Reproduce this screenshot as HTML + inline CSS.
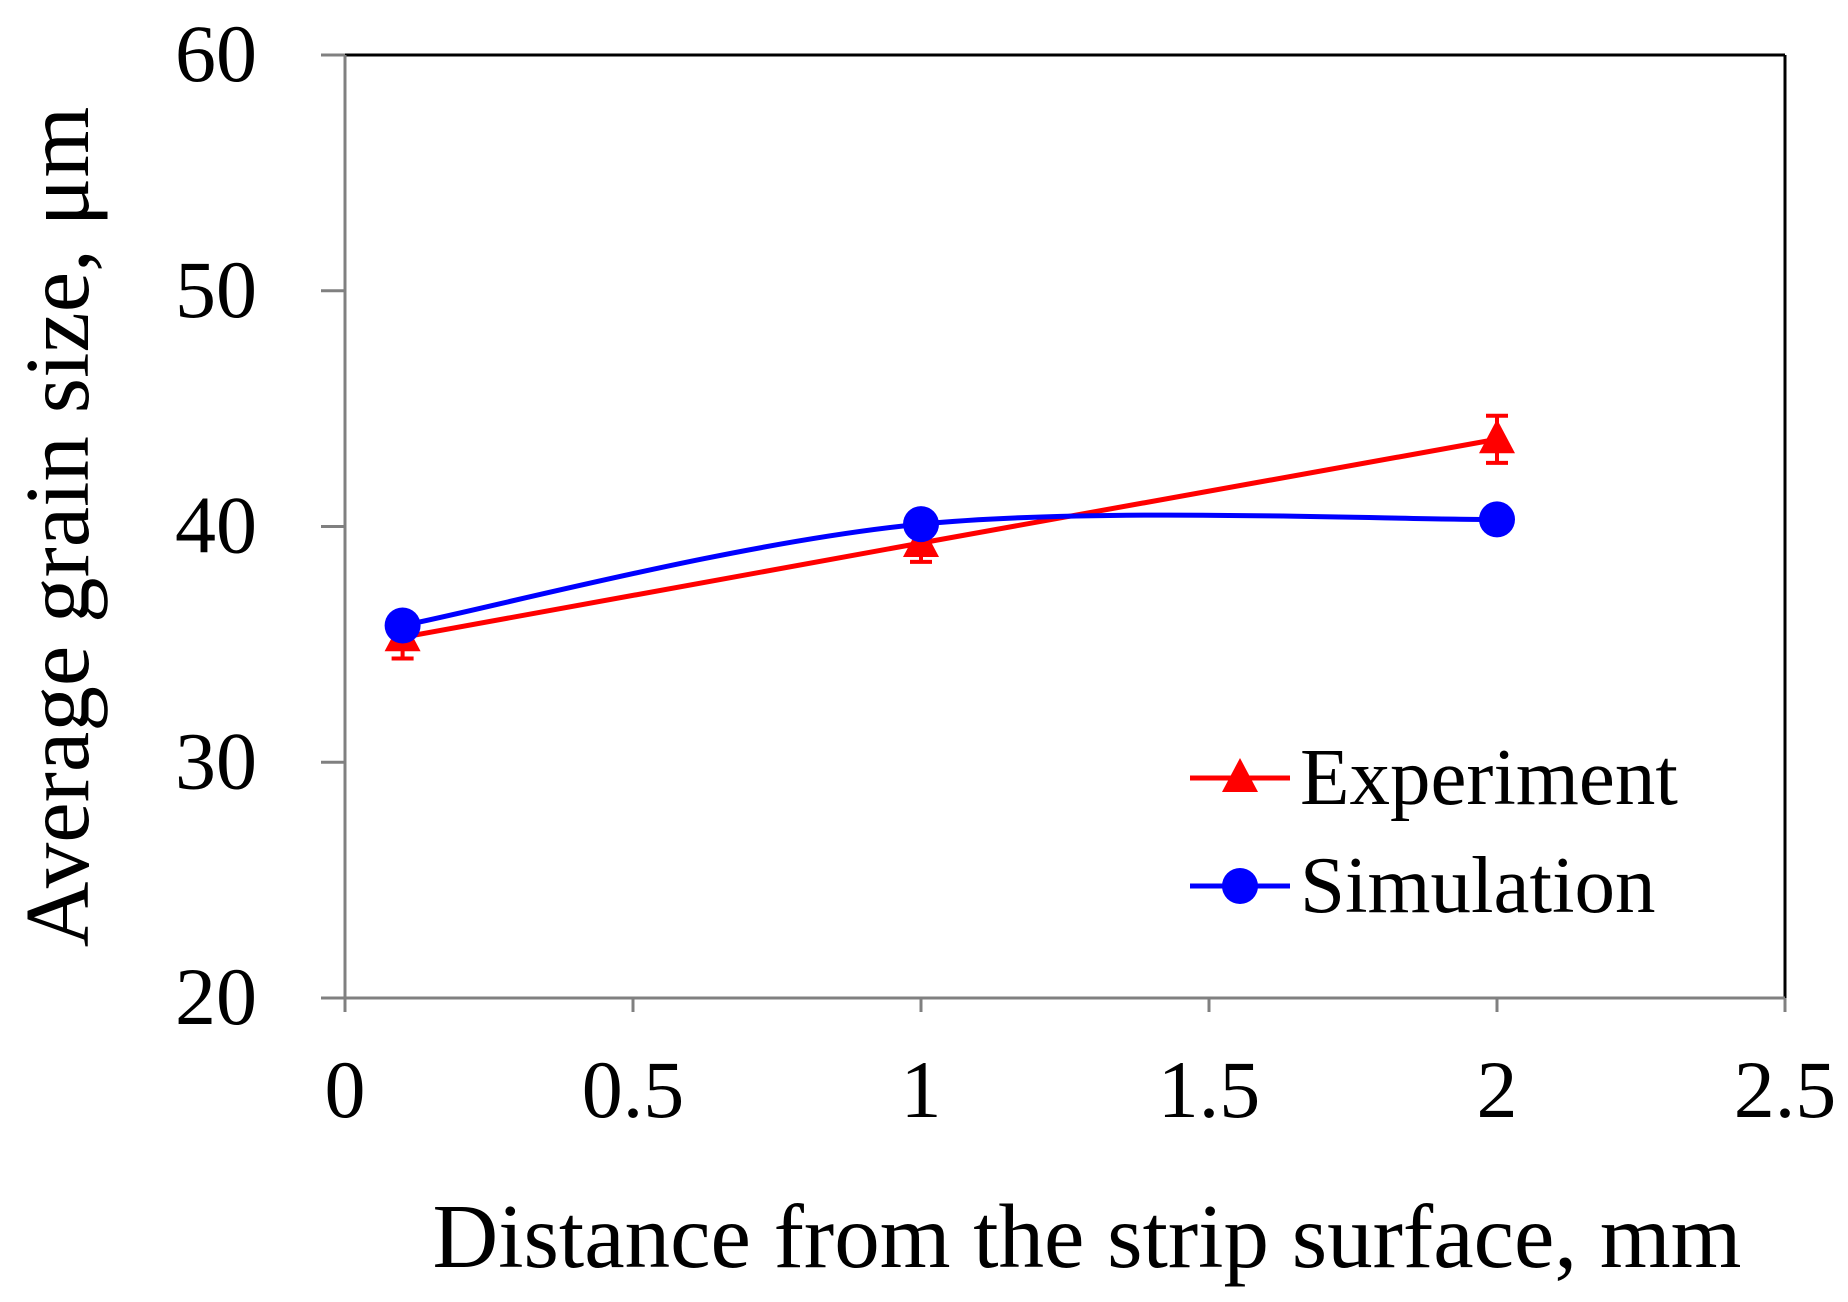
<!DOCTYPE html>
<html><head><meta charset="utf-8"><style>
html,body{margin:0;padding:0;background:#fff;}
svg{display:block;}
text{font-family:"Liberation Serif",serif;fill:#000;}
</style></head><body>
<svg id="chart" width="1848" height="1302" viewBox="0 0 1848 1302"></svg>
<script>
const xTicks=[0,0.5,1,1.5,2,2.5];
const xTickLabels=["0","0.5","1","1.5","2","2.5"];
const yTicks=[20,30,40,50,60];
const yTickLabels=["20","30","40","50","60"];
const xValues=[0.1,1,2];
const expValues=[35.3,39.3,43.7];
const expErrors=[0.9,0.8,1.0];
const simValues=[35.8,40.1,40.3];

const L=345,R=1785,T=55,B=998;
const X=v=>L+(v-0)/(2.5-0)*(R-L);
const Y=v=>B-(v-20)/(60-20)*(B-T);
const NS="http://www.w3.org/2000/svg";
const svg=document.getElementById('chart');
function el(tag,attrs,parent){const e=document.createElementNS(NS,tag);for(const k in attrs)e.setAttribute(k,attrs[k]);(parent||svg).appendChild(e);return e;}

const frame=el('g',{});


el('line',{x1:L,y1:T,x2:R,y2:T,stroke:'#000','stroke-width':3},frame);
el('line',{x1:R,y1:T,x2:R,y2:B,stroke:'#000','stroke-width':3},frame);
const yAxis=el('line',{x1:L,y1:T,x2:L,y2:B,stroke:'#808080','stroke-width':3});


const xAxis=el('line',{x1:L-24,y1:B,x2:R,y2:B,stroke:'#808080','stroke-width':3});



yTicks.forEach((v,i)=>{
  const t=el('line',{x1:L-24,y1:Y(v),x2:L,y2:Y(v),stroke:'#808080','stroke-width':3});
  
  
  const lb=el('text',{x:257,y:Y(v)+26,'text-anchor':'end','font-size':82});
  lb.textContent=yTickLabels[i];
  
  
});
xTicks.forEach((v,i)=>{
  const t=el('line',{x1:X(v),y1:B,x2:X(v),y2:B+14,stroke:'#808080','stroke-width':3});
  
  
  const lb=el('text',{x:X(v),y:1117,'text-anchor':'middle','font-size':82});
  lb.textContent=xTickLabels[i];
  
  
});

const yt=el('text',{x:0,y:0,'text-anchor':'middle','font-size':91,transform:'translate(88,527) rotate(-90)'});
yt.textContent='Average grain size, μm';


const xt=el('text',{x:1087,y:1267,'text-anchor':'middle','font-size':91});
xt.textContent='Distance from the strip surface, mm';



const ep=el('polyline',{points:xValues.map((x,i)=>X(x)+','+Y(expValues[i])).join(' '),fill:'none',stroke:'#ff0000','stroke-width':5});



const sp=xValues.map((x,i)=>[X(x),Y(simValues[i])]);
let d='M'+sp[0][0]+','+sp[0][1];
for(let i=0;i<sp.length-1;i++){
  const p0=sp[Math.max(i-1,0)],p1=sp[i],p2=sp[i+1],p3=sp[Math.min(i+2,sp.length-1)];
  const k=1/6;
  d+=' C'+(p1[0]+(p2[0]-p0[0])*k)+','+(p1[1]+(p2[1]-p0[1])*k)+' '+(p2[0]-(p3[0]-p1[0])*k)+','+(p2[1]-(p3[1]-p1[1])*k)+' '+p2[0]+','+p2[1];
}
const sl=el('path',{d:d,fill:'none',stroke:'#0000ff','stroke-width':5});



xValues.forEach((x,i)=>{
  const cx=X(x),top=Y(expValues[i]+expErrors[i]),bot=Y(expValues[i]-expErrors[i]);
  const g=el('g',{fill:'none',stroke:'#ff0000','stroke-width':4});
  
  
  el('line',{x1:cx,y1:top,x2:cx,y2:bot},g);
  el('line',{x1:cx-11,y1:top,x2:cx+11,y2:top},g);
  el('line',{x1:cx-11,y1:bot,x2:cx+11,y2:bot},g);
  const cy=Y(expValues[i]);
  const tri=el('polygon',{points:(cx)+','+(cy-20)+' '+(cx-18)+','+(cy+14)+' '+(cx+18)+','+(cy+14),fill:'#ff0000'});
  
  
});
xValues.forEach((x,i)=>{
  const c=el('circle',{cx:X(x),cy:Y(simValues[i]),r:18,fill:'#0000ff'});
  
  
});

const lg=el('g',{});


const le=el('g',{},lg);


el('line',{x1:1190,y1:778,x2:1290,y2:778,stroke:'#ff0000','stroke-width':5},le);
el('polygon',{points:'1240,758 1222,792 1258,792',fill:'#ff0000'},le);
const t1=el('text',{x:1300,y:804,'font-size':81},le);t1.textContent='Experiment';
const ls=el('g',{},lg);


el('line',{x1:1190,y1:886,x2:1290,y2:886,stroke:'#0000ff','stroke-width':5},ls);
el('circle',{cx:1240,cy:886,r:18,fill:'#0000ff'},ls);
const t2=el('text',{x:1300,y:912,'font-size':81},ls);t2.textContent='Simulation';
</script>
</body></html>
